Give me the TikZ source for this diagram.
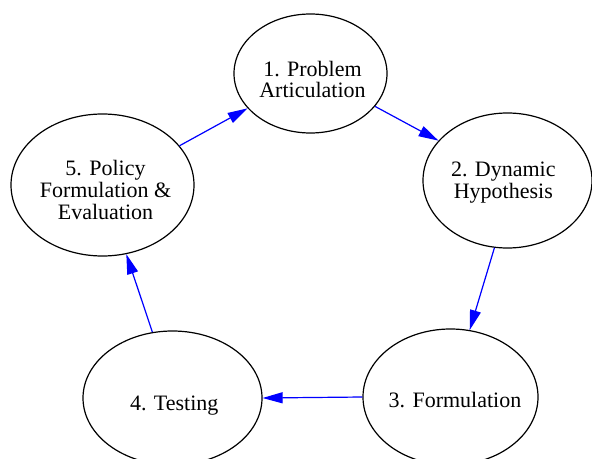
\documentclass[tikz,border=0pt]{standalone}
\usepackage{fontspec}
\setmainfont{Liberation Serif}
\newfontfamily\stagefont{Liberation Serif}
\usetikzlibrary{arrows.meta,shapes.geometric}

\tikzset{
  stage/.style={ellipse, draw=black, line width=1.2bp, fill=white, inner sep=0pt},
  stagetext/.style={align=center, font=\stagefont\fontsize{22bp}{21.7bp}\selectfont, text=black},
  flow/.style={draw=blue, line width=1.2bp, -{Triangle[length=20bp,width=11bp]}, fill=blue}
}

\begin{document}
\begin{tikzpicture}[x=1bp, y=-1bp]
  \useasboundingbox (0,0) rectangle (592,459);
  \clip (0,0) rectangle (592,459);

  % the five stages of the modelling cycle
  \node[stage, minimum width=153bp, minimum height=119bp,
        label={[stagetext, xshift=2bp, yshift=-5.9bp]center:1. Problem\\Articulation}]
        (n1) at (310.5,73.5) {};
  \node[stage, minimum width=169bp, minimum height=135bp,
        label={[stagetext, xshift=-4.2bp, yshift=-1.9bp]center:2. Dynamic\\Hypothesis}]
        (n2) at (507.5,180.5) {};
  \node[stage, minimum width=175bp, minimum height=136bp,
        label={[stagetext, xshift=4.5bp, yshift=-3.2bp]center:3. Formulation}]
        (n3) at (450.5,397) {};
  \node[stage, minimum width=179bp, minimum height=134bp,
        label={[stagetext, xshift=1.7bp, yshift=-7.9bp]center:4. Testing}]
        (n4) at (172.5,398) {};
  \node[stage, minimum width=183bp, minimum height=142bp,
        label={[stagetext, xshift=3bp, yshift=-5bp]center:5. Policy\\Formulation \&\\Evaluation}]
        (n5) at (102.5,185) {};

  % feedback loop between the stages
  \draw[flow] (n1.-27.8)  -- (n2.150.9);
  \draw[flow] (n2.-101.7) -- (n3.74.3);
  \draw[flow] (n3.180)    -- (n4.0);
  \draw[flow] (n4.107.1)  -- (n5.-71.2);
  \draw[flow] (n5.27.3)   -- (n1.-151.8);
\end{tikzpicture}
\end{document}
